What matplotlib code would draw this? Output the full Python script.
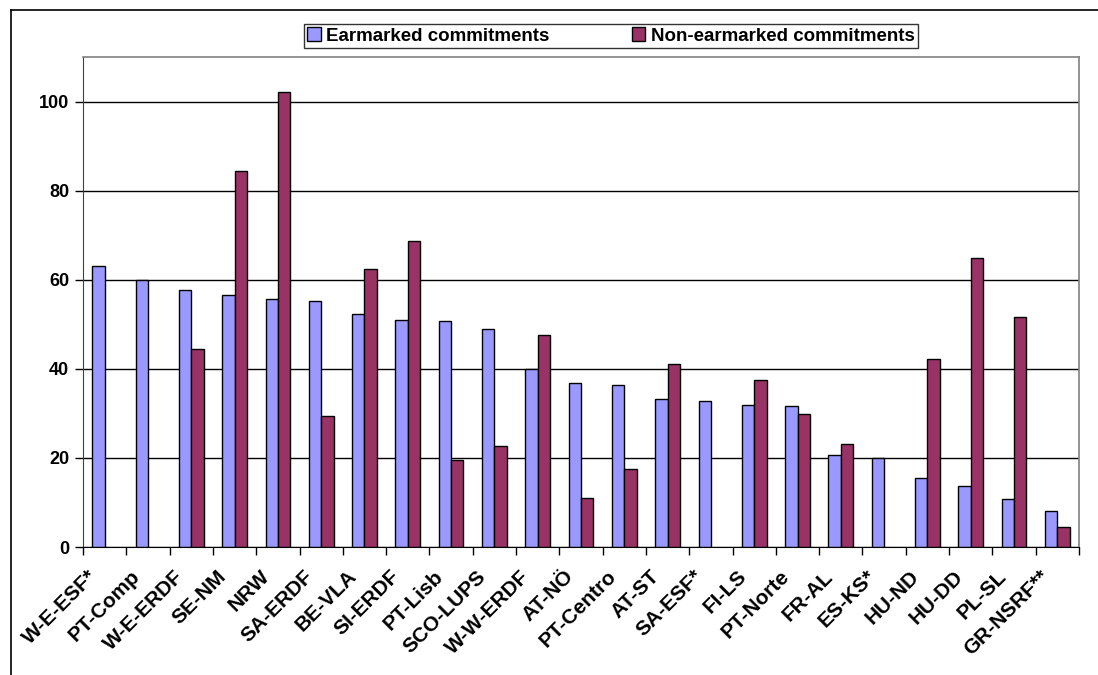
import numpy as np
import matplotlib
matplotlib.use("Agg")
import matplotlib.pyplot as plt
import matplotlib.transforms as mtransforms
from matplotlib.lines import Line2D

plt.rcParams["font.family"] = ["Liberation Sans", "DejaVu Sans"]

regions = ["W-E-ESF*", "PT-Comp", "W-E-ERDF", "SE-NM", "NRW", "SA-ERDF", "BE-VLA",
           "SI-ERDF", "PT-Lisb", "SCO-LUPS", "W-W-ERDF", "AT-NÖ", "PT-Centro", "AT-ST",
           "SA-ESF*", "FI-LS", "PT-Norte", "FR-AL", "ES-KS*", "HU-ND", "HU-DD", "PL-SL",
           "GR-NSRF**"]
earmarked = [63.0, 60.0, 57.6, 56.6, 55.6, 55.3, 52.3, 50.9, 50.7, 48.9, 40.0, 36.9,
             36.3, 33.3, 32.7, 31.9, 31.6, 20.6, 19.9, 15.6, 13.6, 10.7, 8.1]
non_earmarked = [0, 0, 44.4, 84.3, 102.2, 29.5, 62.4, 68.7, 19.5, 22.7, 47.5, 11.0,
                 17.4, 41.0, 0, 37.4, 29.9, 23.1, 0, 42.3, 64.9, 51.7, 4.4]

x = np.arange(len(regions))
w = 0.285

fig = plt.figure(figsize=(10.98, 6.75), dpi=100)
ax = fig.add_axes([83 / 1098, 1 - 547 / 675, (1079 - 83) / 1098, (547 - 57) / 675])

ax.set_axisbelow(True)
ax.yaxis.grid(True, color="black", linewidth=1)
ax.bar(x - w / 2, earmarked, w, color="#9999FF", edgecolor="black", linewidth=1,
       label="Earmarked commitments")
ne = np.array(non_earmarked, dtype=float)
mask = ne > 0
ax.bar(x[mask] + w / 2, ne[mask], w, color="#993366", edgecolor="black", linewidth=1,
       label="Non-earmarked commitments")

ax.set_xlim(-0.5, len(regions) - 0.5)
ax.set_ylim(0, 110)
ax.set_yticks([0, 20, 40, 60, 80, 100])
ax.tick_params(axis="y", labelsize=13, length=6, width=1, pad=4)
for lab in ax.get_yticklabels():
    lab.set_fontweight("bold")

ax.set_xticks(x)
ax.set_xticklabels(regions, rotation=45, ha="right", va="center",
                   rotation_mode="anchor", fontsize=15, fontweight="bold")
ax.tick_params(axis="x", which="major", length=0, pad=19)
shift = mtransforms.ScaledTranslation(-11 / 100, 0, fig.dpi_scale_trans)
for lab in ax.get_xticklabels():
    lab.set_transform(lab.get_transform() + shift)
ax.set_xticks(np.arange(len(regions) + 1) - 0.5, minor=True)
ax.tick_params(axis="x", which="minor", length=6, width=1, color="black")

for s in ["top", "right"]:
    ax.spines[s].set_color("#808080")
    ax.spines[s].set_linewidth(1.2)
ax.spines["left"].set_color("#404040")
ax.spines["bottom"].set_color("black")

leg = fig.legend(loc="center", bbox_to_anchor=(611 / 1098, 1 - 36 / 675), ncol=2,
                 frameon=True, fancybox=False, edgecolor="black",
                 prop={"weight": "bold", "size": 13.5}, handlelength=0.7,
                 handleheight=0.7, columnspacing=4.4, borderpad=0.2,
                 handletextpad=0.3, borderaxespad=0)
leg.get_frame().set_linewidth(1)

# outer chart border
fig.add_artist(Line2D([11 / 1098, 11 / 1098], [0, 1 - 10 / 675], color="black", lw=1.2))
fig.add_artist(Line2D([11 / 1098, 1], [1 - 10 / 675, 1 - 10 / 675], color="black", lw=1.2))

fig.savefig("out.png", dpi=100)
